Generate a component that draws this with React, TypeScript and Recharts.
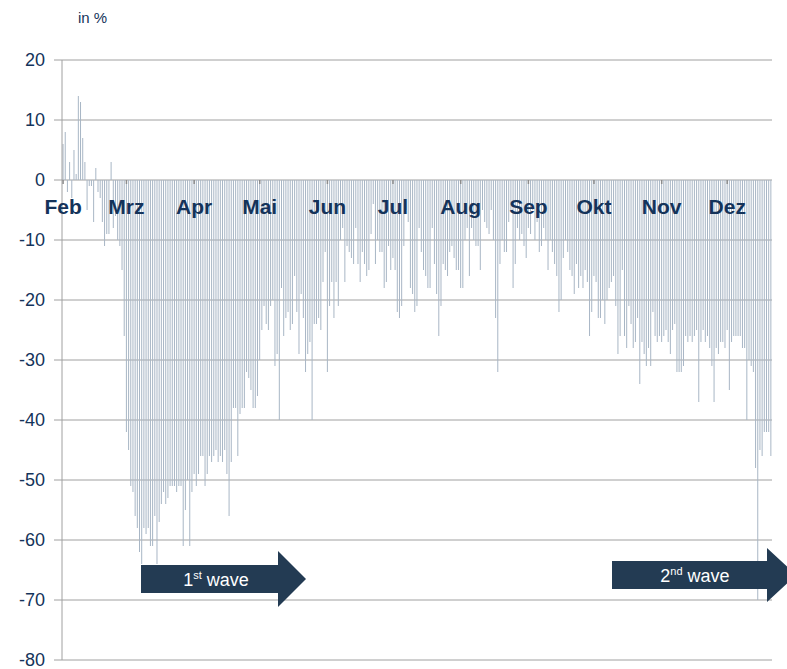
import React from 'react';
import { BarChart, Bar, XAxis, YAxis, CartesianGrid, ReferenceDot } from 'recharts';

// daily change in %, Feb 1 – Dec 21
const monthNames = ['Feb', 'Mrz', 'Apr', 'Mai', 'Jun', 'Jul', 'Aug', 'Sep', 'Okt', 'Nov', 'Dez'];

const febValues = [6, 8, -2, 3, -3, 5, 1, 14, 13, 7, 3, -5, -1, -1, -7, 2, -2, -3, -7, -11, -9, -9, 3, -8, -6, -10, -11, -15, -26];
const mrzValues = [-42, -45, -51, -52, -56, -58, -62, -64, -58, -59, -58, -61, -61, -56, -64, -57, -54, -52, -54, -53, -51, -51, -51, -52, -51, -51, -61, -55, -50, -61, -52];
const aprValues = [-49, -51, -49, -46, -46, -51, -49, -46, -47, -46, -45, -47, -46, -47, -45, -49, -56, -47, -38, -38, -46, -39, -38, -38, -32, -33, -35, -38, -38, -36];
const maiValues = [-30, -25, -21, -24, -25, -21, -20, -31, -29, -40, -18, -26, -23, -22, -25, -24, -16, -22, -29, -19, -23, -32, -29, -27, -40, -24, -24, -23, -25, -17, -12];
const junValues = [-32, -21, -17, -23, -17, -21, -10, -8, -17, -11, -12, -13, -14, -8, -14, -17, -12, -14, -16, -15, -9, -4, -14, -10, -12, -12, -18, -17, -11, -15];
const julValues = [-13, -15, -22, -23, -21, -11, -5, -7, -18, -19, -22, -21, -8, -12, -15, -16, -18, -18, -8, -14, -19, -26, -21, -14, -15, -16, -12, -11, -13, -15, -15];
const augValues = [-18, -18, -10, -8, -16, -8, -10, -11, -11, -15, -5, -7, -8, -9, -5, -10, -23, -32, -14, -10, -12, -12, -7, -5, -18, -14, -8, -10, -9, -11, -13];
const sepValues = [-8, -9, -5, -10, -7, -12, -11, -8, -10, -15, -10, -12, -14, -16, -22, -20, -13, -10, -12, -15, -16, -19, -14, -18, -16, -18, -15, -17, -26, -22];
const oktValues = [-16, -17, -23, -23, -20, -24, -20, -18, -17, -16, -21, -29, -26, -15, -26, -28, -21, -24, -28, -27, -23, -34, -27, -29, -31, -28, -31, -22, -26, -27, -26];
const novValues = [-27, -26, -25, -27, -29, -25, -24, -32, -32, -32, -31, -26, -27, -26, -27, -26, -25, -37, -27, -25, -27, -26, -28, -31, -37, -28, -29, -27, -27, -28];
const dezValues = [-25, -35, -27, -26, -26, -26, -26, -28, -28, -40, -30, -31, -32, -48, -70, -45, -46, -42, -42, -42, -46];

const monthValues = [febValues, mrzValues, aprValues, maiValues, junValues, julValues, augValues, sepValues, oktValues, novValues, dezValues];

const yTicks = [20, 10, 0, -10, -20, -30, -40, -50, -60, -70, -80];

const data = monthValues.flatMap((vals, m) =>
  vals.map((v, d) => ({ day: `${monthNames[m]}-${d + 1}`, value: v }))
);

const navy = '#14335a';
const gridColor = '#a0a0a0';
const font = '"Liberation Sans", Arial, sans-serif';

const MonthMark = (name: string) => (props: any) => {
  const { cx, cy } = props;
  return (
    <g>
      <line x1={cx} y1={cy} x2={cx} y2={cy + 4} stroke="#8c8c8c" strokeWidth={1.5} />
      <text x={cx} y={cy + 34} textAnchor="middle" fill={navy} fontSize={21} fontWeight="bold" fontFamily={font}>
        {name}
      </text>
    </g>
  );
};

export default function App() {
  return (
    <div style={{ position: 'absolute', left: 0, top: 0, width: 787, height: 669, background: '#fff' }}>
      <BarChart
        width={787}
        height={669}
        data={data}
        margin={{ top: 60, right: 15, left: 0, bottom: 9 }}
        barCategoryGap="25%"
      >
        <CartesianGrid vertical={false} stroke={gridColor} />
        <XAxis dataKey="day" hide />
        <YAxis
          width={62}
          domain={[-80, 20]}
          ticks={yTicks}
          interval={0}
          tickSize={8}
          tickMargin={9}
          axisLine={{ stroke: gridColor }}
          tickLine={{ stroke: gridColor }}
          tick={{ fill: navy, fontSize: 18, fontFamily: font }}
        />
        <Bar dataKey="value" fill="#a8b6c5" isAnimationActive={false} />
        {monthNames.map(n => (
          <ReferenceDot key={n} x={`${n}-1`} y={0} r={0} shape={MonthMark(n)} />
        ))}
      </BarChart>

      <svg width={787} height={669} style={{ position: 'absolute', left: 0, top: 0, pointerEvents: 'none' }}>
        <text x={78} y={23} fill={navy} fontSize={15} fontFamily={font}>in %</text>

        <polygon points="141,565 278,565 278,551 306,579 278,607 278,593 141,593" fill="#233b53" />
        <text x={216} y={586} textAnchor="middle" fill="#fff" fontSize={18} fontFamily={font}>
          1<tspan fontSize={11} dy={-7}>st</tspan><tspan dy={7}> wave</tspan>
        </text>

        <polygon points="612,561 767,561 767,548 796,575 767,602 767,589 612,589" fill="#233b53" />
        <text x={695} y={582} textAnchor="middle" fill="#fff" fontSize={18} fontFamily={font}>
          2<tspan fontSize={11} dy={-7}>nd</tspan><tspan dy={7}> wave</tspan>
        </text>
      </svg>
    </div>
  );
}
